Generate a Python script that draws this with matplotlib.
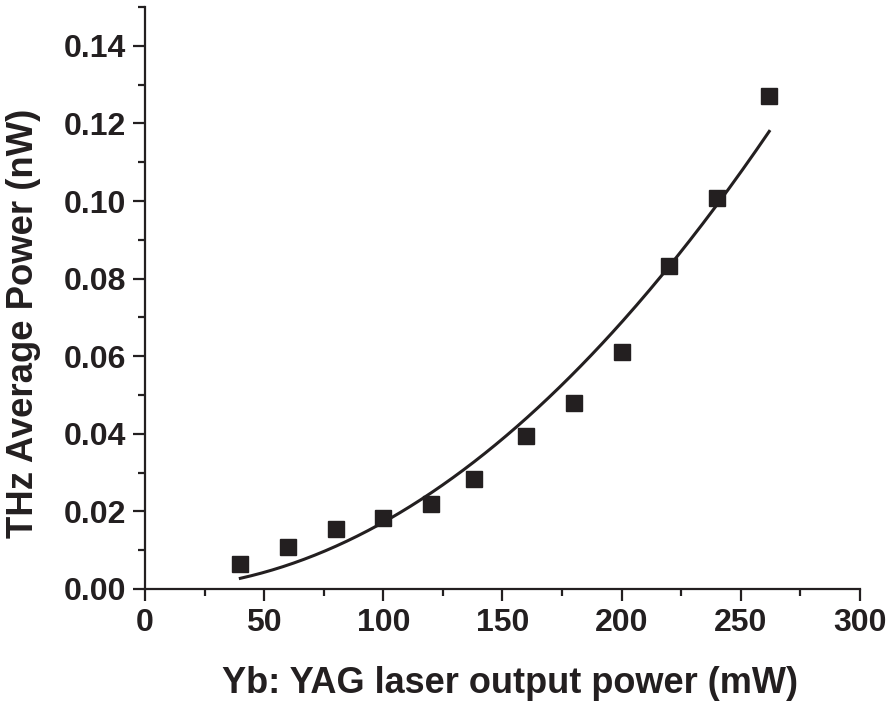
import numpy as np
import matplotlib
matplotlib.use("Agg")
import matplotlib.pyplot as plt
from matplotlib.ticker import MultipleLocator

laser_power_mw = [40, 60, 80, 100, 120, 138, 160, 180, 200, 220, 240, 262]
thz_power_nw = [0.0065, 0.0109, 0.0155, 0.0183, 0.0220, 0.0284, 0.0395, 0.0480,
                0.0612, 0.0832, 0.1007, 0.1270]
xlabel = "Yb: YAG laser output power (mW)"
ylabel = "THz Average Power (nW)"

plt.rcParams['font.family'] = ['Liberation Sans', 'DejaVu Sans']
plt.rcParams['font.weight'] = 'bold'
ink = '#231f20'

fig = plt.figure(figsize=(8.9, 7.02), dpi=100)
ax = fig.add_axes([0.163, 0.161, 0.803, 0.829])

x = np.array(laser_power_mw, dtype=float)
y = np.array(thz_power_nw)
# quadratic (P ~ a x^2) least-squares fit of the measured points
a = np.sum(y * x**2) / np.sum(x**4)
xf = np.linspace(x.min(), x.max(), 200)
ax.plot(xf, a * xf**2, color=ink, lw=2.2, zorder=2)
ax.plot(x, y, 's', color=ink, markersize=12, zorder=3)

ax.set_xlim(0, 300)
ax.set_ylim(0, 0.15)
ax.xaxis.set_major_locator(MultipleLocator(50))
ax.xaxis.set_minor_locator(MultipleLocator(25))
ax.yaxis.set_major_locator(MultipleLocator(0.02))
ax.yaxis.set_minor_locator(MultipleLocator(0.01))
ax.yaxis.set_major_formatter(plt.FuncFormatter(lambda v, p: f"{v:.2f}"))

for s in ['top', 'right']:
    ax.spines[s].set_visible(False)
for s in ['left', 'bottom']:
    ax.spines[s].set_linewidth(1.6)
    ax.spines[s].set_color(ink)

ax.tick_params(which='major', direction='out', length=8.5, width=1.6, color=ink,
               labelsize=23, labelcolor=ink, pad=5)
ax.tick_params(which='minor', direction='out', length=5, width=1.6, color=ink)
for lbl in ax.get_xticklabels() + ax.get_yticklabels():
    lbl.set_fontweight('bold')

ax.set_xlabel(xlabel, fontsize=26, fontweight='bold', color=ink)
ax.set_ylabel(ylabel, fontsize=26.3, fontweight='bold', color=ink)
ax.xaxis.set_label_coords(0.511, -0.132)
ax.yaxis.set_label_coords(-0.146, 0.457)

fig.savefig("out.png", dpi=100, facecolor='white')
